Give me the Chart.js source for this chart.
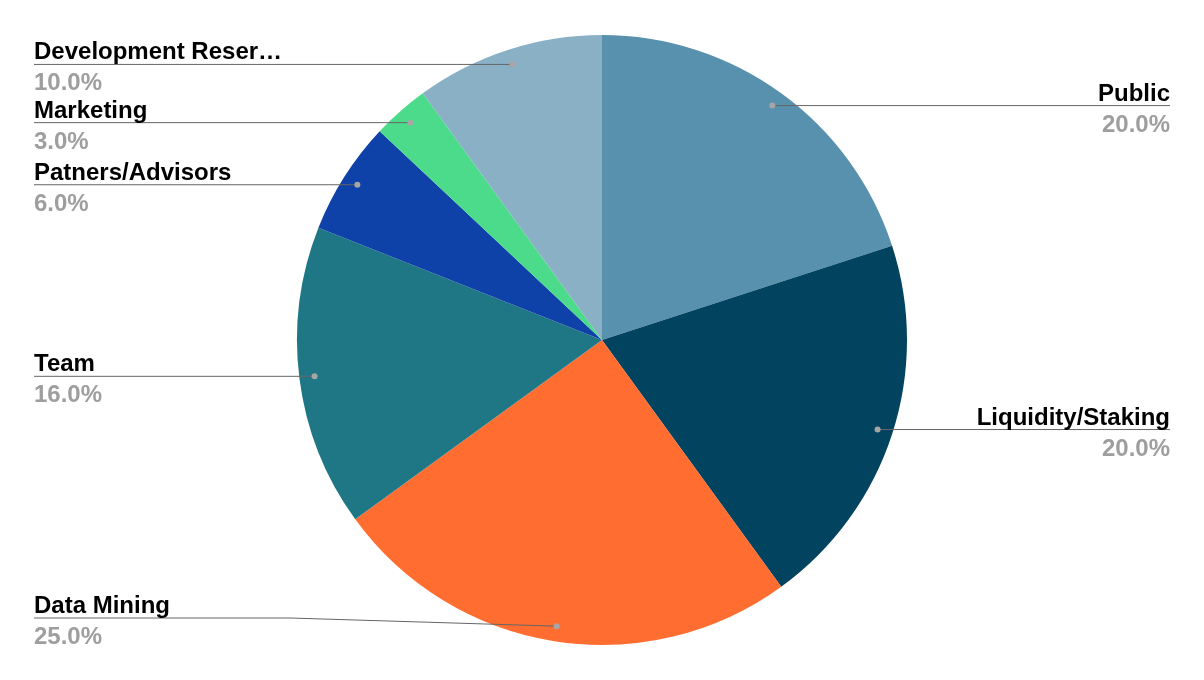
<!DOCTYPE html>
<html>
<head>
<meta charset="utf-8">
<script src="https://cdn.jsdelivr.net/npm/chart.js@4/dist/chart.umd.min.js"></script>
<style>
    html, body { margin: 0; padding: 0; background: #fff; }
    #wrap { width: 1204px; height: 680px; }
</style>
</head>
<body>
<div id="wrap"><canvas id="pie-chart"></canvas></div>
<script>
const labels = ['Public', 'Liquidity/Staking', 'Data Mining', 'Team', 'Patners/Advisors', 'Marketing', 'Development Reser…'];
const shares = [20, 20, 25, 16, 6, 3, 10];
const sliceColors = ['#5891ad', '#024460', '#ff6d31', '#1f7786', '#0f42a8', '#4cdb8a', '#8ab0c5'];

// draws the leader lines, dots and the two-line labels beside the pie
const leaderLabels = {
    id: 'leaderLabels',
    afterDraw(chart) {
        const ctx = chart.ctx;
        const arcs = chart.getDatasetMeta(0).data;
        const leftX = 34;
        const rightX = 1170;
        const maxLineY = 618;

        ctx.save();
        arcs.forEach((arc, i) => {
            const { x, y, startAngle, endAngle, outerRadius } = arc.getProps(['x', 'y', 'startAngle', 'endAngle', 'outerRadius']);
            const mid = (startAngle + endAngle) / 2;
            const ax = x + Math.cos(mid) * outerRadius * 0.95;
            const ay = y + Math.sin(mid) * outerRadius * 0.95;
            const onRight = ax > x;
            const lineY = Math.min(ay, maxLineY);

            ctx.strokeStyle = '#666';
            ctx.lineWidth = 1;
            ctx.beginPath();
            if (onRight) {
                ctx.moveTo(ax, ay);
                ctx.lineTo(rightX, lineY);
            } else {
                ctx.moveTo(leftX, lineY);
                if (lineY !== ay) ctx.lineTo(290, lineY);
                ctx.lineTo(ax, ay);
            }
            ctx.stroke();

            ctx.fillStyle = '#a6a6a6';
            ctx.beginPath();
            ctx.arc(ax, ay, 3, 0, Math.PI * 2);
            ctx.fill();

            const tx = onRight ? rightX : leftX;
            ctx.textAlign = onRight ? 'right' : 'left';
            ctx.font = 'bold 24px "Liberation Sans", Arial, sans-serif';
            ctx.textBaseline = 'alphabetic';
            ctx.fillStyle = '#000';
            ctx.fillText(labels[i], tx, lineY - 5);
            ctx.fillStyle = '#9e9e9e';
            ctx.fillText(shares[i].toFixed(1) + '%', tx, lineY + 26);
        });
        ctx.restore();
    }
};

new Chart(document.getElementById('pie-chart').getContext('2d'), {
    type: 'pie',
    data: {
        labels: labels,
        datasets: [{
            data: shares,
            backgroundColor: sliceColors,
            borderWidth: 0
        }]
    },
    options: {
        responsive: true,
        maintainAspectRatio: false,
        animation: false,
        layout: { padding: { top: 35, bottom: 35 } },
        plugins: {
            legend: { display: false },
            tooltip: { enabled: false }
        }
    },
    plugins: [leaderLabels]
});
</script>
</body>
</html>
